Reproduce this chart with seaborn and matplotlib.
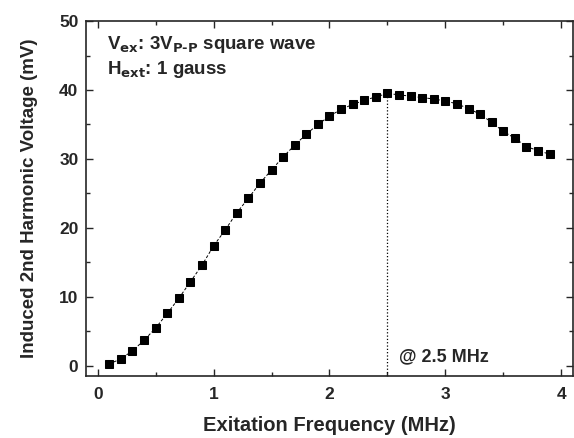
import seaborn as sns
import matplotlib.pyplot as plt
import pandas as pd
from matplotlib.ticker import MultipleLocator

# data
freq_mhz = [0.1, 0.2, 0.3, 0.4, 0.5, 0.6, 0.7, 0.8, 0.9, 1.0,
            1.1, 1.2, 1.3, 1.4, 1.5, 1.6, 1.7, 1.8, 1.9, 2.0,
            2.1, 2.2, 2.3, 2.4, 2.5, 2.6, 2.7, 2.8, 2.9, 3.0,
            3.1, 3.2, 3.3, 3.4, 3.5, 3.6, 3.7, 3.8, 3.9]
voltage_mv = [0.3, 1.0, 2.2, 3.7, 5.5, 7.6, 9.8, 12.2, 14.6, 17.4,
              19.7, 22.2, 24.3, 26.5, 28.4, 30.3, 32.0, 33.6, 35.0, 36.2,
              37.2, 37.9, 38.5, 39.0, 39.5, 39.3, 39.1, 38.9, 38.7, 38.4,
              38.0, 37.3, 36.5, 35.3, 34.0, 33.0, 31.8, 31.2, 30.7]
peak_freq = 2.5
peak_voltage = 39.5

sns.set_style("ticks")
plt.rcParams["font.family"] = ["Liberation Sans", "DejaVu Sans"]
plt.rcParams["font.weight"] = "bold"
plt.rcParams["mathtext.default"] = "bf"

df = pd.DataFrame({"f": freq_mhz, "v": voltage_mv})

fig = plt.figure(figsize=(5.74, 4.38), dpi=100)
ax = fig.add_axes([0.150, 0.141, 0.848, 0.811])

sns.lineplot(data=df, x="f", y="v", ax=ax, color="black", marker="s",
             markersize=5.5, markeredgecolor="black", linewidth=0.7,
             linestyle=(0, (3, 2)))

# dotted marker line at the peak
ax.plot([peak_freq, peak_freq], [-1.5, peak_voltage], color="black",
        linestyle=":", linewidth=0.9)
ax.text(2.6, 0.7, "@ 2.5 MHz", fontsize=13, fontweight="bold")

ax.text(0.08, 45.9, r"V$_{ex}$: 3V$_{P\text{-}P}$ square wave", fontsize=13.5,
        fontweight="bold")
ax.text(0.08, 42.3, r"H$_{ext}$: 1 gauss", fontsize=13.5, fontweight="bold")

ax.set_xlim(-0.1, 4.1)
ax.set_ylim(-1.5, 50)
ax.xaxis.set_major_locator(MultipleLocator(1))
ax.xaxis.set_minor_locator(MultipleLocator(0.5))
ax.yaxis.set_major_locator(MultipleLocator(10))
ax.yaxis.set_minor_locator(MultipleLocator(5))
ax.tick_params(which="both", direction="in", top=True, right=True,
               labelsize=12.5, width=1)
ax.tick_params(which="major", length=5)
ax.tick_params(which="minor", length=3)
ax.tick_params(axis="x", pad=8)
ax.tick_params(axis="y", pad=5.5)
for lab in ax.get_xticklabels() + ax.get_yticklabels():
    lab.set_fontweight("bold")

ax.set_xlabel("Exitation Frequency (MHz)", fontsize=14.5, fontweight="bold",
              labelpad=10)
ax.set_ylabel("Induced 2nd Harmonic Voltage (mV)", fontsize=13.5,
              fontweight="bold", labelpad=15)
for s in ax.spines.values():
    s.set_linewidth(1.2)

fig.savefig("out.png", dpi=100)
